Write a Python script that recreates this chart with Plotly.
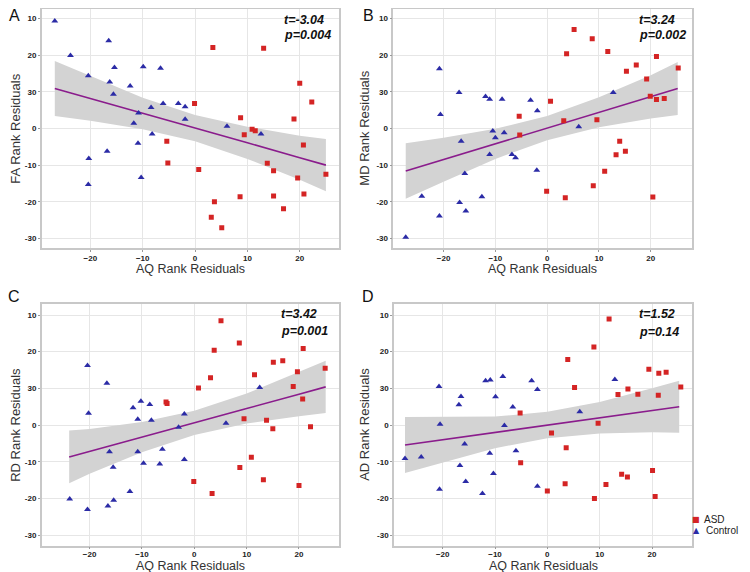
import plotly.graph_objects as go

# ---------------- data ----------------
y_tickvals = [30, 20, 10, 0, -10, -20, -30]
y_ticktext = ["10", "20", "30", "0", "-10", "-20", "-30"]
x_tickvals = [-20, -10, 0, 10, 20]

# Panel A (FA)
a_asd_x = [3.4, 13.1, -0.1, 8.7, 9.4, 10.9, 11.5, 20.0, 22.3, 18.9, 20.7, -5.4, -5.2, 0.7, 13.8, 15.0, 19.6, 25.0, 20.8, 3.7, 8.6, 15.0, 16.9, 3.1, 5.1]
a_asd_y = [22.1, 21.9, 6.8, 2.9, -1.7, -0.2, -0.6, 12.3, 7.2, 2.6, -4.5, -3.5, -9.4, -11.2, -9.5, -11.5, -13.5, -12.5, -17.9, -20.0, -18.6, -18.4, -21.9, -24.2, -27.1]
a_ctl_x = [-26.8, -23.8, -16.5, -20.4, -15.4, -9.9, -6.6, -16.3, -12.4, -15.6, -8.4, -6.1, -3.2, -1.9, -10.8, -11.7, -1.9, -8.2, -10.9, 6.1, 12.6, -16.8, -20.3, -10.3, -20.4]
a_ctl_y = [29.3, 19.9, 23.9, 14.4, 16.6, 16.8, 16.4, 12.7, 11.6, 9.3, 5.7, 6.8, 6.8, 5.9, 4.2, 1.4, 2.5, -1.5, -4.0, 0.6, -1.5, -6.2, -8.2, -13.4, -15.3]
a_band_x = [-26.8, -20, -10, 0, 10, 20, 25.0]
a_fit_y = [10.9, 8.2, 4.1, 0.1, -3.9, -8.0, -10.0]
a_band_hi = [18.4, 14.3, 8.4, 3.7, 0.5, -2.0, -2.9]
a_band_lo = [3.4, 2.1, -0.2, -3.5, -8.3, -14.0, -17.1]

# Panel B (MD)
b_asd_x = [5.2, 8.7, 3.75, 11.7, 21.1, 25.3, 15.3, 17.2, 19.2, 19.9, 21.1, 22.6, 0.65, -5.4, -5.3, 3.2, 9.6, 14.0, 15.1, 13.3, 11.1, 8.9, -0.1, 3.5, 20.4]
b_asd_y = [27.0, 24.5, 20.4, 21.0, 19.6, 16.5, 15.6, 17.3, 13.5, 8.8, 7.9, 8.2, 7.4, 3.3, -1.8, 2.1, 2.4, -3.5, -6.2, -7.2, -11.7, -15.6, -17.1, -18.9, -18.7]
b_ctl_x = [-27.3, -24.2, -20.8, -20.6, -20.8, -17.0, -16.6, -16.9, -15.9, -15.7, -12.6, -11.9, -11.1, -11.1, -10.5, -10.0, -8.7, -8.3, -6.8, -6.1, -3.2, -1.9, -2.0, 6.1, 12.75]
b_ctl_y = [-29.7, -18.5, 16.3, 3.8, -23.9, 9.8, -3.5, -20.2, -12.3, -22.5, -18.6, 8.7, 8.0, -7.1, -0.7, -2.5, 8.0, -1.2, -7.1, -8.0, 7.7, 4.8, -11.4, 0.5, 9.8]
b_band_x = [-27.3, -20, -10, 0, 10, 20, 25.2]
b_fit_y = [-11.6, -8.5, -4.2, 0.1, 4.4, 8.6, 10.9]
b_band_hi = [-4.0, -2.5, -0.1, 3.4, 8.5, 14.5, 18.1]
b_band_lo = [-19.2, -14.5, -8.3, -3.2, 0.3, 2.7, 3.7]

# Panel C (RD)
c_asd_x = [5.1, 8.6, 3.8, 20.8, 15.1, 16.9, 11.5, 19.7, 25.0, 3.1, 18.9, 0.8, 20.7, -5.4, -5.2, 9.5, 13.8, 15.0, 22.2, 10.9, 8.7, 13.2, -0.1, 3.4, 20.0]
c_asd_y = [28.4, 22.4, 20.4, 20.9, 17.1, 17.5, 13.7, 14.5, 15.5, 12.9, 10.5, 10.1, 7.1, 6.3, 5.9, 1.7, 1.3, -1.0, -0.5, -8.8, -11.6, -14.9, -15.4, -18.7, -16.5]
c_ctl_x = [-23.8, -20.4, -20.2, -20.4, -16.7, -16.2, -16.5, -15.5, -15.4, -12.3, -11.7, -10.8, -10.8, -10.2, -9.7, -8.5, -8.2, -6.6, -6.1, -3.0, -1.9, -1.9, 6.05, 12.5]
c_ctl_y = [-20.2, 16.2, 3.2, -23.0, 11.4, -7.3, -22.1, -11.5, -20.5, -18.1, 4.7, 1.6, -7.3, 6.5, -10.4, 5.6, 1.3, -10.6, -6.6, -0.6, 3.0, -9.4, 0.5, 10.2]
c_band_x = [-23.9, -20, -10, 0, 10, 20, 25.1]
c_fit_y = [-8.7, -7.2, -3.3, 0.6, 4.5, 8.4, 10.4]
c_band_hi = [-1.5, -1.1, 0.8, 3.9, 8.6, 14.4, 17.5]
c_band_lo = [-15.9, -13.3, -7.4, -2.7, 0.4, 2.4, 3.3]

# Panel D (AD)
d_asd_x = [11.8, 8.9, 3.9, 19.4, 21.3, 22.7, 25.5, 5.2, 15.4, 13.5, 17.3, 21.2, -5.2, 9.7, 0.8, 3.6, -5.1, 14.2, 15.3, 20.1, 11.2, 3.4, 0.0, 9.0, 20.6]
d_asd_y = [28.9, 21.3, 17.9, 15.2, 14.1, 14.4, 10.4, 10.2, 9.8, 8.3, 8.4, 8.1, 3.3, 0.5, -2.2, -6.2, -10.3, -13.4, -14.2, -12.4, -16.2, -16.0, -18.0, -20.0, -19.5]
d_ctl_x = [-27.2, -24.1, -20.7, -20.5, -20.6, -16.9, -16.5, -16.7, -15.8, -15.6, -12.4, -11.8, -10.9, -11.0, -10.3, -9.9, -8.5, -8.2, -6.6, -6.0, -3.0, -1.9, -1.9, 6.2, 12.9]
d_ctl_y = [-9.1, -8.7, 10.5, 0.2, -17.5, 5.5, 7.8, -11.0, -5.2, -15.4, -18.7, 12.1, 12.3, -7.7, -13.2, 7.7, 13.2, -0.1, 4.9, -7.0, 12.1, 9.7, -16.7, 3.6, 12.4]
d_band_x = [-27.2, -20, -10, 0, 10, 20, 25.2]
d_fit_y = [-5.45, -4.0, -2.0, 0.0, 2.0, 4.0, 5.0]
d_band_hi = [2.2, 2.2, 2.3, 3.6, 6.3, 10.0, 12.1]
d_band_lo = [-13.1, -10.2, -6.3, -3.6, -2.3, -2.0, -2.1]

panel_letters = ["A", "B", "C", "D"]
y_titles = ["FA Rank Residuals", "MD Rank Residuals", "RD Rank Residuals", "AD Rank Residuals"]
x_title = "AQ Rank Residuals"
stat_t = ["t=-3.04", "t=3.24", "t=3.42", "t=1.52"]
stat_p = ["p=0.004", "p=0.002", "p=0.001", "p=0.14"]
legend_labels = ["ASD", "Control"]

# ---------------- styling / layout ----------------
# the page body has an 8px margin, so the figure is 8px smaller and all
# window-pixel positions below are shifted by OFF
OFF = 8
W, H = 750 - OFF, 572 - OFF
ASD_COLOR = "#d42424"
CTL_COLOR = "#2b2ba6"
FIT_COLOR = "#8a1c8c"
BAND_COLOR = "#d3d3d3"

panels = [
    dict(asd=(a_asd_x, a_asd_y), ctl=(a_ctl_x, a_ctl_y), band=(a_band_x, a_fit_y, a_band_hi, a_band_lo),
         px=(41.7, 339.0), py=(9.3, 248.0), xr=[-29.3, 27.5], yr=[-32.6, 32.5]),
    dict(asd=(b_asd_x, b_asd_y), ctl=(b_ctl_x, b_ctl_y), band=(b_band_x, b_fit_y, b_band_hi, b_band_lo),
         px=(393.3, 691.7), py=(9.3, 248.0), xr=[-29.7, 27.9], yr=[-32.6, 32.5]),
    dict(asd=(c_asd_x, c_asd_y), ctl=(c_ctl_x, c_ctl_y), band=(c_band_x, c_fit_y, c_band_hi, c_band_lo),
         px=(41.7, 339.3), py=(304.0, 545.7), xr=[-29.15, 27.7], yr=[-32.9, 33.0]),
    dict(asd=(d_asd_x, d_asd_y), ctl=(d_ctl_x, d_ctl_y), band=(d_band_x, d_fit_y, d_band_hi, d_band_lo),
         px=(394.0, 692.3), py=(304.0, 545.7), xr=[-29.3, 27.7], yr=[-32.9, 33.0]),
]

letter_pos = [(14, 15), (368, 15), (14, 296), (368, 296)]
ytitle_x = [16, 365, 16, 365]
xtitle_dy = [21, 20.5]
xlabel_standoff = [0, -2]
stat_x = [282, 636.7, 279, 636.7]
stat_y = [(20, 35), (20, 35), (313.5, 331), (314, 331.5)]

fig = go.Figure()
layout = dict(
    width=W, height=H, margin=dict(l=0, r=0, t=0, b=0),
    paper_bgcolor="white", plot_bgcolor="white", showlegend=False,
    font=dict(family="Liberation Sans, Arial, sans-serif", color="#222"),
)
annotations = []

def px2x(v):
    return (v - OFF) / W

def py2y(v):
    return 1 - (v - OFF) / H

for i, p in enumerate(panels):
    n = "" if i == 0 else str(i + 1)
    xa, ya = "x" + n, "y" + n
    bx, fy, hi, lo = p["band"]
    fig.add_trace(go.Scatter(x=bx + bx[::-1], y=hi + lo[::-1], fill="toself", fillcolor=BAND_COLOR,
                             line=dict(width=0), mode="lines", hoverinfo="skip", xaxis=xa, yaxis=ya))
    fig.add_trace(go.Scatter(x=bx, y=fy, mode="lines", line=dict(color=FIT_COLOR, width=1.6),
                             xaxis=xa, yaxis=ya))
    fig.add_trace(go.Scatter(x=p["ctl"][0], y=p["ctl"][1], mode="markers", name="Control",
                             marker=dict(symbol="triangle-up", size=6, color=CTL_COLOR, line=dict(width=0)),
                             xaxis=xa, yaxis=ya))
    fig.add_trace(go.Scatter(x=p["asd"][0], y=p["asd"][1], mode="markers", name="ASD",
                             marker=dict(symbol="square", size=5, color=ASD_COLOR, line=dict(width=0)),
                             xaxis=xa, yaxis=ya))
    common = dict(showgrid=True, gridcolor="#e6e6e6", gridwidth=1, zeroline=False,
                  showline=True, mirror=True, linecolor="#c8c8c8", linewidth=1.5,
                  ticks="outside", ticklen=2, tickcolor="#999", tickwidth=1,
                  tickfont=dict(size=8, color="#222", weight="bold", family="Liberation Sans, Arial"))
    layout["xaxis" + n] = dict(domain=[px2x(p["px"][0]), px2x(p["px"][1])], range=p["xr"],
                               tickvals=x_tickvals, anchor=ya,
                               ticklabelstandoff=xlabel_standoff[i // 2], **common)
    layout["yaxis" + n] = dict(domain=[py2y(p["py"][1]), py2y(p["py"][0])], range=p["yr"],
                               tickvals=y_tickvals, ticktext=y_ticktext, anchor=xa, **common)
    # axis titles
    xc = (p["px"][0] + p["px"][1]) / 2
    annotations.append(dict(text=x_title, x=px2x(xc), y=py2y(p["py"][1] + xtitle_dy[i // 2]),
                            xref="paper", yref="paper",
                            showarrow=False, xanchor="center", yanchor="middle",
                            font=dict(size=12.5, color="#333")))
    yc = (p["py"][0] + p["py"][1]) / 2
    annotations.append(dict(text=y_titles[i], x=px2x(ytitle_x[i]), y=py2y(yc), xref="paper", yref="paper",
                            showarrow=False, textangle=-90, xanchor="center", yanchor="middle",
                            font=dict(size=13, color="#333")))
    # panel letter
    annotations.append(dict(text=panel_letters[i], x=px2x(letter_pos[i][0]), y=py2y(letter_pos[i][1]),
                            xref="paper", yref="paper", showarrow=False, xanchor="center", yanchor="middle",
                            font=dict(size=16, color="#111")))
    # stats
    for txt, yy in zip([stat_t[i], stat_p[i]], stat_y[i]):
        annotations.append(dict(text="<b><i>" + txt + "</i></b>", x=px2x(stat_x[i]), y=py2y(yy),
                                xref="paper", yref="paper", showarrow=False, xanchor="left", yanchor="middle",
                                font=dict(size=12.5, color="#111", family="Liberation Sans, Arial")))

# legend (bottom right)
leg_y = [519.5, 530.5]
leg_sym = ["■", "▲"]
leg_col = [ASD_COLOR, CTL_COLOR]
leg_tx = [702, 704]
for lab, yy, s, c, tx in zip(legend_labels, leg_y, leg_sym, leg_col, leg_tx):
    annotations.append(dict(text=s, x=px2x(696), y=py2y(yy), xref="paper", yref="paper", showarrow=False,
                            xanchor="center", yanchor="middle",
                            font=dict(size=8, color=c, family="DejaVu Sans")))
    annotations.append(dict(text=lab, x=px2x(tx), y=py2y(yy), xref="paper", yref="paper", showarrow=False,
                            xanchor="left", yanchor="middle", font=dict(size=10, color="#222")))

layout["annotations"] = annotations
fig.update_layout(**layout)
fig.write_html("out.html")
